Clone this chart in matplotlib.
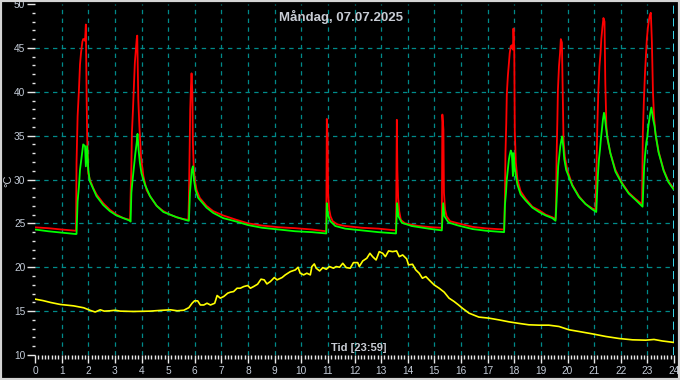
import matplotlib
matplotlib.use("Agg")
import matplotlib.pyplot as plt
from matplotlib.ticker import MultipleLocator

# ---------------- data ----------------
title = "Måndag, 07.07.2025"
xlabel = "Tid [23:59]"
ylabel = "°C"

red_h = [0.00, 0.50, 1.00, 1.54, 1.56, 1.60, 1.65, 1.69, 1.73, 1.78, 1.81, 1.85, 1.88, 1.91,
         1.94, 1.96, 2.00, 2.06, 2.19, 2.31, 2.56, 2.81, 3.06, 3.32, 3.57,
         3.59, 3.62, 3.64, 3.68, 3.72, 3.75, 3.79, 3.82, 3.84, 3.88, 3.92, 3.98, 4.07, 4.19,
         4.32, 4.57, 4.82, 5.07, 5.32, 5.57, 5.76,
         5.78, 5.81, 5.83, 5.86, 5.88, 5.91, 5.93, 5.96, 6.01, 6.07, 6.19, 6.44, 6.69, 7.07,
         7.57, 8.01, 8.53, 9.15, 9.78, 10.40, 10.94,
         10.96, 10.99, 11.01, 11.05, 11.10, 11.18, 11.34, 11.65, 12.28, 12.90, 13.56,
         13.59, 13.61, 13.64, 13.68, 13.74, 13.90, 14.40, 14.90, 15.28,
         15.30, 15.34, 15.36, 15.40, 15.46, 15.59, 15.90, 16.44, 16.94, 17.62,
         17.65, 17.67, 17.70, 17.72, 17.76, 17.80, 17.83, 17.87, 17.91, 17.95, 17.97, 18.00,
         18.02, 18.06, 18.12, 18.24, 18.43, 18.68, 18.93, 19.18, 19.43, 19.55,
         19.57, 19.59, 19.62, 19.64, 19.68, 19.72, 19.75, 19.79, 19.82, 19.85, 19.90, 19.99,
         20.18, 20.43, 20.68, 20.93, 21.05,
         21.09, 21.12, 21.16, 21.20, 21.24, 21.27, 21.31, 21.35, 21.39, 21.42, 21.46, 21.51,
         21.61, 21.80, 22.05, 22.30, 22.55, 22.80,
         22.83, 22.87, 22.91, 22.95, 22.98, 23.02, 23.06, 23.10, 23.13, 23.17, 23.21, 23.25,
         23.30, 23.42, 23.61, 23.79, 23.98]
red_v = [24.55, 24.45, 24.30, 24.16, 31.9, 37.2, 40.2, 43.1, 44.5, 45.7, 46.0, 46.0, 45.8, 47.66,
         39.1, 34.9, 30.7, 30.0, 29.0, 28.3, 27.3, 26.56, 26.0, 25.6, 25.4,
         28.1, 31.5, 35.3, 38.0, 41.0, 43.3, 44.8, 46.0, 46.4, 39.1, 36.1, 32.6, 30.4, 28.8,
         28.1, 27.0, 26.4, 26.0, 25.7, 25.5, 25.4,
         27.7, 34.2, 38.0, 40.8, 42.1, 39.9, 34.2, 31.5, 29.8, 28.8, 27.9, 27.0, 26.4, 25.9,
         25.4, 25.0, 24.75, 24.56, 24.45, 24.3, 24.1,
         36.9, 34.75, 28.3, 26.6, 25.8, 25.25, 24.9, 24.7, 24.5, 24.4, 24.2,
         36.8, 31.1, 27.9, 26.4, 25.4, 25.0, 24.7, 24.56, 24.5,
         37.4, 35.7, 28.5, 26.6, 25.8, 25.25, 25.0, 24.6, 24.43, 24.3,
         27.7, 33.0, 36.4, 39.7, 41.8, 43.3, 44.4, 45.2, 45.3, 44.8, 47.2, 44.9,
         35.5, 31.9, 30.0, 28.65, 27.8, 26.9, 26.5, 26.0, 25.7, 25.5,
         27.3, 32.6, 36.8, 40.2, 42.9, 44.4, 46.0, 45.6, 39.9, 34.5, 32.6, 31.1,
         29.4, 28.1, 27.2, 26.7, 26.56,
         31.5, 36.1, 40.2, 42.9, 44.4, 46.0, 47.3, 48.4, 48.0, 41.0, 36.1, 34.5,
         33.0, 31.1, 29.6, 28.5, 27.8, 27.2,
         35.3, 39.1, 42.1, 44.4, 46.0, 47.3, 48.2, 48.8, 49.0, 45.6, 39.9, 37.2,
         35.3, 33.2, 31.1, 29.8, 29.0]

green_h = [0.00, 0.50, 1.00, 1.54, 1.56, 1.60, 1.65, 1.69, 1.75, 1.81, 1.88, 1.91, 1.96, 2.00,
           2.06, 2.31, 2.56, 2.81, 3.06, 3.32, 3.57,
           3.59, 3.62, 3.66, 3.72, 3.77, 3.82, 3.85, 3.89, 3.94, 4.00, 4.13, 4.32, 4.57, 4.82,
           5.32, 5.76,
           5.78, 5.82, 5.86, 5.89, 5.93, 5.97, 6.03, 6.13, 6.44, 6.69, 7.07, 7.57, 8.01,
           8.53, 9.15, 9.78, 10.40, 10.94,
           10.96, 11.00, 11.09, 11.28, 11.65, 12.28, 12.90, 13.56,
           13.60, 13.65, 13.78, 14.15, 14.78, 15.28,
           15.33, 15.38, 15.53, 15.90, 16.44, 16.94, 17.62,
           17.65, 17.69, 17.72, 17.76, 17.80, 17.83, 17.87, 17.91, 17.95, 17.97, 18.01, 18.06,
           18.12, 18.24, 18.43, 18.68, 18.93, 19.18, 19.43, 19.55,
           19.58, 19.62, 19.65, 19.69, 19.73, 19.77, 19.80, 19.84, 19.88, 19.95, 20.18, 20.43,
           20.68, 20.93, 21.08,
           21.10, 21.14, 21.18, 21.22, 21.25, 21.29, 21.33, 21.37, 21.40, 21.44, 21.49, 21.61,
           21.80, 22.05, 22.30, 22.55, 22.82,
           22.85, 22.88, 22.92, 22.96, 23.00, 23.03, 23.07, 23.11, 23.15, 23.18, 23.22, 23.27,
           23.32, 23.42, 23.61, 23.79, 23.98]
green_v = [24.30, 24.10, 23.95, 23.78, 23.8, 27.5, 29.2, 31.1, 32.6, 34.0, 33.8, 31.5, 33.8, 31.1,
           29.8, 28.1, 27.1, 26.4, 25.9, 25.6, 25.3,
           25.2, 28.5, 29.8, 31.5, 33.0, 34.2, 35.2, 33.4, 31.9, 30.7, 29.4, 28.1, 27.0, 26.3,
           25.7, 25.3,
           25.3, 28.5, 30.0, 31.1, 31.5, 30.0, 28.8, 27.9, 26.8, 26.2, 25.6, 25.2, 24.8,
           24.5, 24.3, 24.1, 24.0, 23.85,
           27.3, 26.0, 25.25, 24.7, 24.4, 24.2, 24.0, 23.85,
           27.3, 25.8, 25.06, 24.7, 24.4, 24.2,
           27.3, 25.8, 25.1, 24.75, 24.35, 24.16, 24.0,
           27.1, 28.5, 30.0, 31.1, 32.3, 32.8, 33.3, 33.0, 30.4, 33.0, 31.5, 30.4,
           29.4, 28.3, 27.6, 26.8, 26.3, 25.9, 25.6, 25.3,
           26.9, 29.6, 31.5, 32.6, 33.8, 34.5, 34.9, 33.8, 32.3, 31.1, 29.3, 28.0,
           27.2, 26.6, 26.3,
           27.7, 30.4, 32.3, 33.4, 34.5, 35.7, 36.8, 37.6, 37.2, 36.1, 34.9, 33.0,
           30.9, 29.5, 28.4, 27.7, 26.9,
           29.2, 31.5, 33.0, 34.2, 34.9, 35.9, 36.8, 37.6, 38.2, 37.6, 36.8, 36.1,
           34.9, 33.1, 31.0, 29.7, 28.9]

yellow_h = [0.00, 0.30, 0.58, 0.95, 1.45, 1.83, 2.08, 2.26, 2.45, 2.60, 2.83, 3.01, 3.20, 3.70,
            4.33, 4.70, 5.09, 5.34, 5.59, 5.78, 5.90, 5.99, 6.11, 6.21, 6.34, 6.46, 6.59, 6.75,
            6.84, 6.96, 7.09, 7.24, 7.34, 7.46, 7.59, 7.71, 7.84, 7.99, 8.09, 8.21, 8.36, 8.49,
            8.61, 8.71, 8.84, 8.99, 9.09, 9.28, 9.40, 9.59, 9.78, 9.88, 9.96, 10.09, 10.21,
            10.34, 10.40, 10.49, 10.56, 10.69, 10.81, 10.94, 11.06, 11.21, 11.31, 11.44, 11.56,
            11.69, 11.84, 11.96, 12.12, 12.18, 12.31, 12.46, 12.58, 12.68, 12.81, 12.93, 13.06,
            13.16, 13.28, 13.43, 13.58, 13.68, 13.81, 13.96, 14.03, 14.18, 14.30, 14.43, 14.55,
            14.68, 14.80, 14.99, 15.18, 15.37, 15.55, 15.74, 15.90, 16.05, 16.30, 16.67, 17.05,
            17.43, 17.80, 18.18, 18.55, 18.93, 19.30, 19.68, 20.06, 20.43, 20.93, 21.44, 21.94,
            22.44, 22.94, 23.25, 23.56, 24.00]
yellow_v = [16.37, 16.20, 15.99, 15.76, 15.60, 15.38, 15.08, 14.90, 15.15, 15.00, 15.04, 15.10,
            15.00, 14.96, 15.00, 15.08, 15.15, 15.04, 15.10, 15.40, 15.90, 16.17, 16.17, 15.70,
            15.70, 15.90, 15.70, 15.90, 16.78, 16.48, 16.67, 17.05, 17.16, 17.23, 17.61, 17.61,
            17.80, 17.92, 17.61, 17.80, 18.07, 18.64, 18.56, 18.10, 18.37, 18.83, 18.56, 18.83,
            19.13, 19.50, 19.70, 20.00, 19.32, 19.13, 19.32, 19.13, 20.08, 20.38, 19.89, 19.58,
            19.96, 19.77, 20.08, 19.89, 20.08, 20.00, 20.45, 19.96, 19.89, 20.53, 20.53, 20.08,
            20.72, 21.02, 21.59, 21.21, 20.83, 21.78, 21.59, 21.21, 21.86, 21.78, 21.86, 21.21,
            21.40, 20.95, 20.27, 20.34, 19.70, 19.32, 18.75, 18.94, 18.56, 17.99, 17.61, 17.16,
            16.48, 16.10, 15.72, 15.34, 14.77, 14.32, 14.20, 14.00, 13.78, 13.60, 13.44, 13.40,
            13.40, 13.25, 12.87, 12.68, 12.41, 12.11, 11.88, 11.73, 11.69, 11.77, 11.60, 11.43]

x_ticks = list(range(0, 25))
y_ticks = [10, 15, 20, 25, 30, 35, 40, 45, 50]

# ---------------- styling ----------------
W, H = 680, 380
fig = plt.figure(figsize=(W / 100, H / 100), dpi=100, facecolor="black")
ax = fig.add_axes([35 / W, (H - 355) / H, 639 / W, 351 / H], facecolor="black")

label_col = "#c4ccd8"
tick_col = "#e8e8e8"
grid_col = "#008a8a"

ax.set_xlim(0, 24)
ax.set_ylim(10, 50)

for h in x_ticks[1:-1]:
    ax.axvline(h, color=grid_col, lw=0.9, ls=(0, (3.5, 3.5)), zorder=1)
ax.axvline(24, color="#40e8ff", lw=1.3, ls=(0, (4.5, 2.5)), zorder=1)
for v in y_ticks[1:-1]:
    ax.axhline(v, color=grid_col, lw=0.9, ls=(0, (3.5, 3.5)), zorder=1)

ax.plot(red_h, red_v, color="#ff0000", lw=1.3, zorder=3)
ax.plot(green_h, green_v, color="#00ff00", lw=1.3, zorder=4)
ax.plot(yellow_h, yellow_v, color="#ffff00", lw=1.2, zorder=5)

for s in ax.spines.values():
    s.set_visible(False)

ax.set_xticks(x_ticks)
ax.set_yticks(y_ticks)
ax.xaxis.set_minor_locator(MultipleLocator(1 / 8))
ax.yaxis.set_minor_locator(MultipleLocator(1))
ax.tick_params(axis="both", which="both", colors=tick_col, labelcolor=label_col,
               labelsize=7.3, width=1.0, direction="out")
ax.tick_params(axis="x", which="major", length=6, pad=2)
ax.tick_params(axis="x", which="minor", length=3)
ax.tick_params(axis="y", which="major", length=6, pad=1)
ax.tick_params(axis="y", which="minor", length=2.5)
for lab in ax.get_xticklabels() + ax.get_yticklabels():
    lab.set_family("Liberation Sans")

fig.text(341 / W, 1 - 17 / H, title, color="#c8ccd4", fontsize=9.5, fontweight="bold",
         family="Liberation Sans", ha="center", va="center")
fig.text(359 / W, 1 - 348 / H, xlabel, color="#c8ccd4", fontsize=8, fontweight="bold",
         family="Liberation Sans", ha="center", va="center")
fig.text(8 / W, 1 - 181 / H, ylabel, color="#c8ccd4", fontsize=8, rotation=90,
         family="Liberation Sans", ha="center", va="center")

fig.patches.append(plt.Rectangle((0, 0), 1, 1, transform=fig.transFigure, fill=False,
                                 ec="#d4d4d4", lw=3, zorder=10))

fig.savefig("out.png", dpi=100, facecolor="black")
